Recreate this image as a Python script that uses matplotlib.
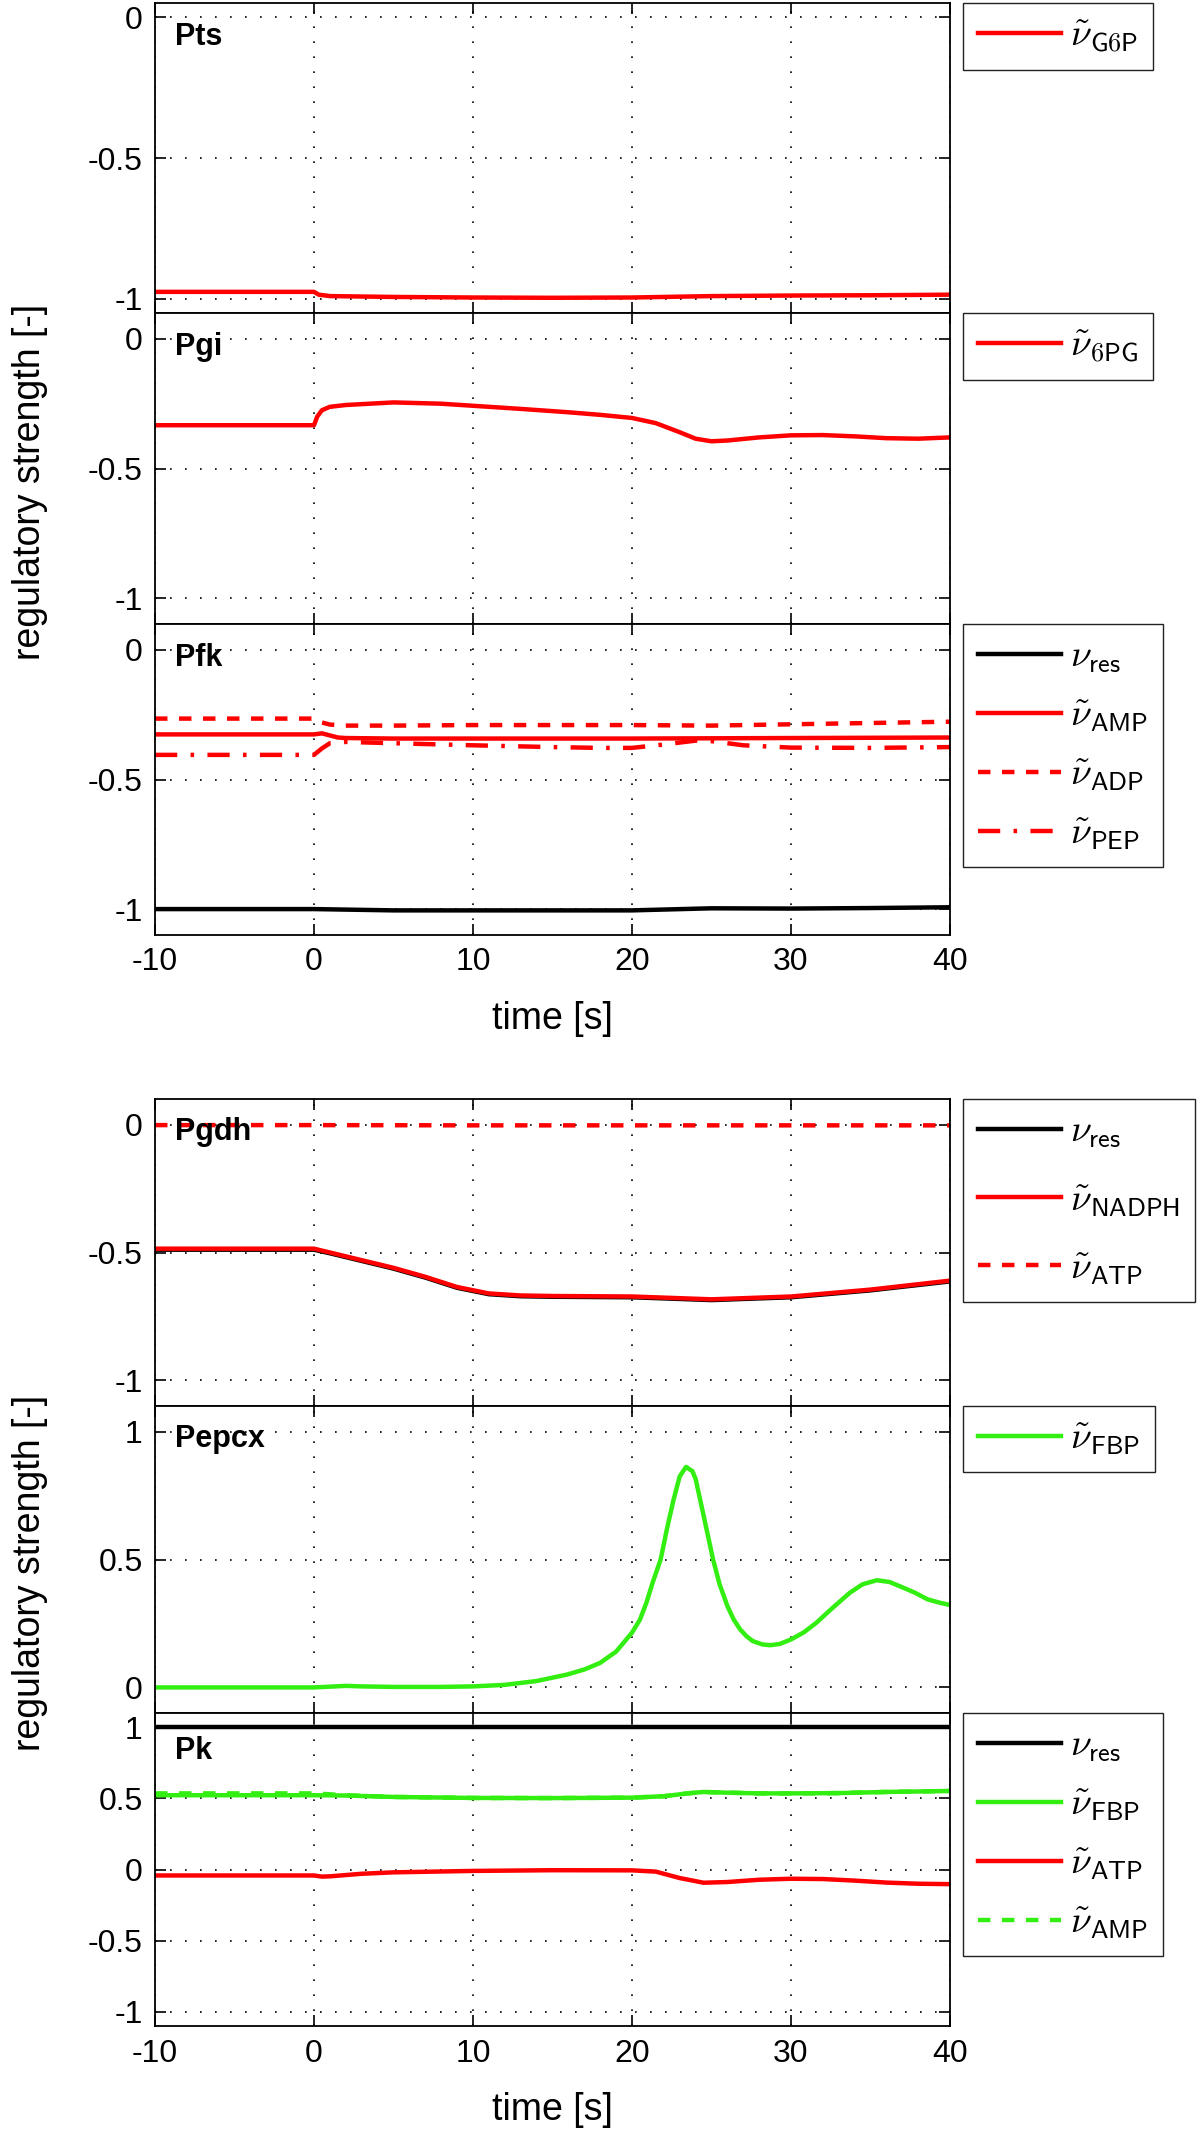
import numpy as np
import matplotlib.pyplot as plt
from matplotlib.ticker import FuncFormatter

plt.rcParams['font.family'] = ['Liberation Sans', 'DejaVu Sans']
plt.rcParams['mathtext.fontset'] = 'cm'
plt.rcParams['axes.unicode_minus'] = False

RED = '#ff0000'
GREEN = '#33ee11'
BLACK = '#000000'

# ---- data ----
# Pts
t_pts = [-10, 0, 0.3, 1, 5, 10, 15, 20, 25, 30, 35, 40]
pts_g6p = [-0.975, -0.975, -0.985, -0.99, -0.993, -0.995, -0.996, -0.995, -0.99, -0.988, -0.987, -0.985]

# Pgi
t_pgi = [-10, 0, 0.2, 0.5, 1, 2, 5, 8, 10, 13, 16, 18, 20, 21.5, 23, 24, 25, 26, 28, 30, 32, 34, 36, 38, 40]
pgi_6pg = [-0.333, -0.333, -0.3, -0.275, -0.262, -0.255, -0.245, -0.25, -0.258, -0.27, -0.283, -0.293,
           -0.305, -0.325, -0.36, -0.385, -0.395, -0.392, -0.38, -0.372, -0.371, -0.376, -0.383, -0.385, -0.38]

# Pfk
t_pfk_res = [-10, 0, 5, 10, 20, 25, 30, 35, 40]
pfk_res = [-1.0, -1.0, -1.005, -1.005, -1.005, -0.997, -0.998, -0.996, -0.993]
t_pfk_amp = [-10, 0, 0.5, 1, 1.5, 2, 5, 10, 20, 30, 40]
pfk_amp = [-0.326, -0.326, -0.322, -0.33, -0.338, -0.34, -0.342, -0.342, -0.342, -0.34, -0.338]
t_pfk_adp = [-10, 0, 0.5, 1, 2, 5, 10, 15, 20, 25, 30, 35, 40]
pfk_adp = [-0.265, -0.265, -0.28, -0.288, -0.292, -0.292, -0.29, -0.29, -0.29, -0.292, -0.287, -0.282, -0.277]
t_pfk_pep = [-10, 0, 0.5, 1, 2, 5, 10, 15, 18, 20, 22, 24, 25, 27, 30, 35, 40]
pfk_pep = [-0.405, -0.405, -0.38, -0.36, -0.355, -0.36, -0.368, -0.375, -0.378, -0.378, -0.365, -0.35,
           -0.352, -0.368, -0.377, -0.378, -0.375]

# Pgdh
t_pgdh = [-10, 0, 1, 3, 5, 7, 9, 11, 13, 15, 20, 25, 30, 35, 40]
pgdh_res = [-0.489, -0.489, -0.503, -0.533, -0.563, -0.598, -0.638, -0.663, -0.671, -0.673, -0.675, -0.686,
            -0.675, -0.648, -0.613]
pgdh_nadph = [-0.485, -0.485, -0.5, -0.53, -0.56, -0.595, -0.635, -0.66, -0.668, -0.67, -0.672, -0.683,
              -0.672, -0.645, -0.61]
t_pgdh_atp = [-10, 0, 10, 20, 30, 40]
pgdh_atp = [-0.002, -0.002, -0.003, -0.003, -0.003, -0.003]

# Pepcx
t_pepcx = [-10, 0, 1, 2, 3, 5, 8, 10, 12, 14, 15.9, 17, 18, 19, 20, 20.5, 20.9, 21.3, 21.8, 22.2, 22.6,
           23.0, 23.4, 23.8, 24.0, 24.3, 24.7, 25.1, 25.5, 26.0, 26.4, 26.8, 27.2, 27.6, 28.2, 28.7, 29.3,
           30, 30.8, 31.6, 32.6, 33.7, 34.5, 35.4, 36.2, 36.9, 37.8, 38.6, 39.3, 40]
pepcx_fbp = [0, 0, 0.003, 0.006, 0.004, 0.002, 0.002, 0.004, 0.01, 0.025, 0.05, 0.07, 0.096, 0.14, 0.214,
             0.265, 0.33, 0.41, 0.5, 0.62, 0.73, 0.825, 0.862, 0.845, 0.815, 0.73, 0.615, 0.5, 0.405,
             0.318, 0.265, 0.227, 0.2, 0.181, 0.168, 0.165, 0.17, 0.1875, 0.215, 0.253, 0.31, 0.37,
             0.403, 0.419, 0.412, 0.394, 0.37, 0.344, 0.332, 0.322]

# Pk
t_pk_res = [-10, 0, 10, 20, 30, 40]
pk_res = [1.0, 1.0, 1.0, 1.0, 1.0, 1.0]
t_pk = [-10, 0, 2, 5, 10, 15, 20, 22, 23.5, 24.5, 26, 28, 30, 33, 36, 40]
pk_fbp = [0.522, 0.522, 0.52, 0.51, 0.503, 0.502, 0.505, 0.515, 0.535, 0.545, 0.54, 0.535, 0.535, 0.537,
          0.545, 0.552]
pk_amp = [0.535, 0.535, 0.522, 0.51, 0.503, 0.502, 0.505, 0.515, 0.535, 0.545, 0.54, 0.535, 0.535, 0.537,
          0.545, 0.552]
t_pk_atp = [-10, 0, 0.5, 1, 3, 5, 10, 15, 20, 21.5, 23, 24.5, 26, 28, 30, 32, 34, 36, 38, 40]
pk_atp = [-0.042, -0.042, -0.05, -0.048, -0.03, -0.02, -0.01, -0.005, -0.006, -0.015, -0.06, -0.093,
          -0.088, -0.072, -0.065, -0.067, -0.078, -0.092, -0.1, -0.103]

xticks = [-10, 0, 10, 20, 30, 40]

# ---- layout in pixels ----
W, H = 1200, 2136
X0, X1 = 155, 950
LEG_X = 963

fig = plt.figure(figsize=(W / 100, H / 100), dpi=100)


def make_ax(top, bottom):
    return fig.add_axes([X0 / W, 1 - bottom / H, (X1 - X0) / W, (bottom - top) / H])


def style(ax, name, ylim, yticks, top, show_x=False, name_y=0.94, spacing=0.6):
    ax.set_xlim(-10, 40)
    ax.set_ylim(*ylim)
    ax.set_xticks(xticks)
    ax.set_yticks(yticks)
    ax.yaxis.set_major_formatter(FuncFormatter(lambda v, p: '%g' % v))
    ax.grid(True, color='k', linestyle=(0, (1, 8)), linewidth=1.2)
    ax.tick_params(direction='in', length=8, width=1.2, top=True, right=True, labelsize=23, pad=9)
    if not show_x:
        ax.tick_params(labelbottom=False)
    else:
        ax.set_xlabel('time [s]', fontsize=27, labelpad=17)
    for s in ax.spines.values():
        s.set_linewidth(1.3)
    ax.text(0.025, name_y, name, transform=ax.transAxes, fontsize=22, fontweight='bold',
            va='top', ha='left', zorder=10)
    leg = ax.legend(loc='upper left', bbox_to_anchor=(LEG_X / W, 1 - top / H),
                    bbox_transform=fig.transFigure, borderaxespad=0, fontsize=27,
                    handlelength=2.2, handletextpad=0.25, labelspacing=spacing, borderpad=0.4,
                    fancybox=False, edgecolor='#222222', framealpha=1)
    leg.get_frame().set_linewidth(1.0)


LW = 3.2
dot = (0, (2.8, 2.6))
dashdot = (0, (5, 3, 0.8, 3))

# top group
ax = make_ax(3, 313)
ax.plot(t_pts, pts_g6p, color=RED, lw=LW, label=r'$\tilde{\nu}_{\mathsf{G6P}}$')
style(ax, 'Pts', (-1.05, 0.05), [-1, -0.5, 0], 3)

ax = make_ax(313, 624)
ax.plot(t_pgi, pgi_6pg, color=RED, lw=LW, label=r'$\tilde{\nu}_{\mathsf{6PG}}$')
style(ax, 'Pgi', (-1.1, 0.1), [-1, -0.5, 0], 313)

ax = make_ax(624, 935)
ax.plot(t_pfk_res, pfk_res, color=BLACK, lw=LW, label=r'$\nu_{\mathsf{res}}$')
ax.plot(t_pfk_amp, pfk_amp, color=RED, lw=LW, label=r'$\tilde{\nu}_{\mathsf{AMP}}$')
ax.plot(t_pfk_adp, pfk_adp, color=RED, lw=LW, linestyle=dot, label=r'$\tilde{\nu}_{\mathsf{ADP}}$')
ax.plot(t_pfk_pep, pfk_pep, color=RED, lw=LW, linestyle=dashdot, label=r'$\tilde{\nu}_{\mathsf{PEP}}$')
style(ax, 'Pfk', (-1.1, 0.1), [-1, -0.5, 0], 624, show_x=True)

# bottom group
ax = make_ax(1099, 1406)
ax.plot(t_pgdh, pgdh_res, color=BLACK, lw=LW, label=r'$\nu_{\mathsf{res}}$')
ax.plot(t_pgdh, pgdh_nadph, color=RED, lw=LW, label=r'$\tilde{\nu}_{\mathsf{NADPH}}$')
ax.plot(t_pgdh_atp, pgdh_atp, color=RED, lw=LW, linestyle=dot, label=r'$\tilde{\nu}_{\mathsf{ATP}}$')
style(ax, 'Pgdh', (-1.1, 0.1), [-1, -0.5, 0], 1099, spacing=0.85)

ax = make_ax(1406, 1713)
ax.plot(t_pepcx, pepcx_fbp, color=GREEN, lw=LW, label=r'$\tilde{\nu}_{\mathsf{FBP}}$')
style(ax, 'Pepcx', (-0.1, 1.1), [0, 0.5, 1], 1406)

ax = make_ax(1713, 2026)
ax.plot(t_pk_res, pk_res, color=BLACK, lw=LW, label=r'$\nu_{\mathsf{res}}$')
ax.plot(t_pk, pk_fbp, color=GREEN, lw=LW, label=r'$\tilde{\nu}_{\mathsf{FBP}}$')
ax.plot(t_pk_atp, pk_atp, color=RED, lw=LW, label=r'$\tilde{\nu}_{\mathsf{ATP}}$')
ax.plot(t_pk, pk_amp, color=GREEN, lw=LW, linestyle=dot, label=r'$\tilde{\nu}_{\mathsf{AMP}}$')
style(ax, 'Pk', (-1.1, 1.1), [-1, -0.5, 0, 0.5, 1], 1713, show_x=True, name_y=0.925)

fig.text(30 / W, 1 - 482 / H, 'regulatory strength [-]', rotation=90, ha='center', va='center', fontsize=27)
fig.text(30 / W, 1 - 1573 / H, 'regulatory strength [-]', rotation=90, ha='center', va='center', fontsize=27)

fig.savefig('out.png', dpi=100)
